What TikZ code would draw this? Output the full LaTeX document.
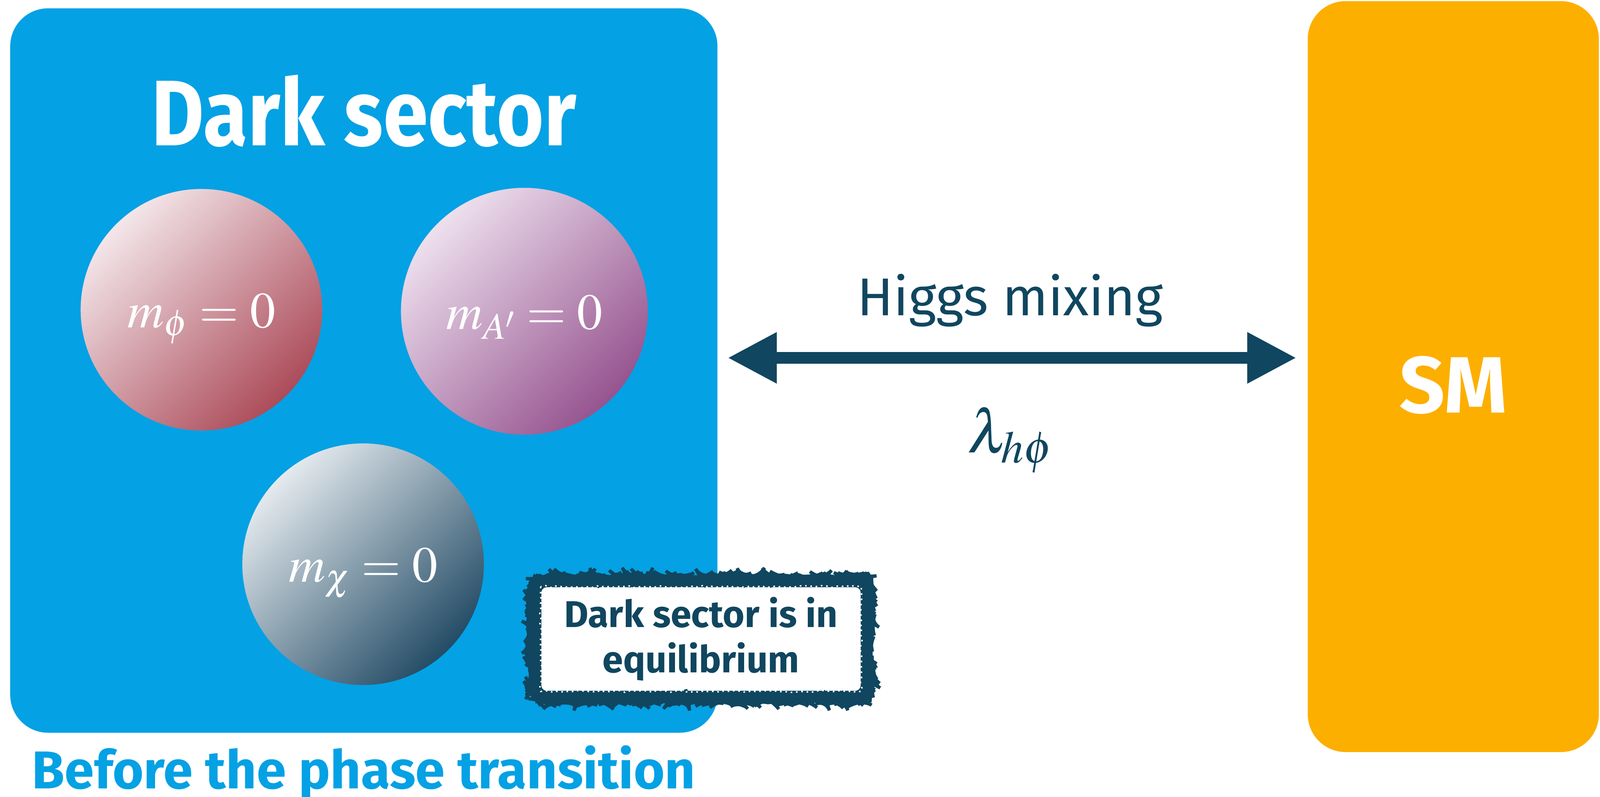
\documentclass[tikz,border=0pt]{standalone}
\usepackage{mathptmx}
\usepackage[no-math]{fontspec}
\setsansfont{Fira Sans}
\newfontfamily\titlefont{Fira Sans}[FakeStretch=0.87]
\renewcommand{\familydefault}{\sfdefault}
\usetikzlibrary{positioning,arrows.meta,decorations.pathmorphing}

\definecolor{sectorblue}{RGB}{4,161,228}
\definecolor{smorange}{RGB}{253,175,0}
\definecolor{deepteal}{RGB}{16,70,95}
\definecolor{phitop}{RGB}{243,230,234}
\definecolor{phibottom}{RGB}{172,76,90}
\definecolor{aptop}{RGB}{237,224,238}
\definecolor{apbottom}{RGB}{150,84,143}
\definecolor{chitop}{RGB}{228,234,238}
\definecolor{chibottom}{RGB}{36,76,102}

\begin{document}
\begin{tikzpicture}
\tikzstyle{box}=[rectangle, rounded corners=1cm, inner sep=0pt]
\tikzstyle{ball}=[circle, inner sep=0pt]
\tikzstyle{mass}=[text=white, font=\fontsize{38}{40}\selectfont, anchor=base]
\tikzstyle{eqbox}=[rectangle, fill=white, draw=deepteal, line width=9pt, rounded corners=0.3cm, outer sep=0pt,
  minimum width=8.75cm, minimum height=3.05cm, align=center, text=deepteal, font=\bfseries\fontsize{28}{34}\selectfont]
\tikzstyle{roughedge}=[draw=deepteal, line width=2.5pt, rounded corners=0.3cm, decorate,
  decoration={random steps, segment length=2pt, amplitude=1.1pt}]
\tikzstyle{speckle}=[draw=white, line width=1.1pt, dash pattern=on 1.2pt off 2.8pt, decorate,
  decoration={random steps, segment length=3pt, amplitude=0.8pt}]
\tikzstyle{mixarrow}=[deepteal, line width=9pt, {Triangle[length=37pt,width=36pt]}-{Triangle[length=37pt,width=36pt]},
  shorten <=0.26cm, shorten >=0.29cm]

\useasboundingbox (0,0) rectangle (42.26,-21.04);

\node[box, fill=sectorblue, minimum width=18.68cm, minimum height=19.13cm] (darkbox) at (9.61,-9.785) {};
\node[box, fill=smorange, minimum width=7.69cm, minimum height=19.83cm] (smbox) at (38.385,-9.945) {};

\node[text=white, font=\titlefont\bfseries\fontsize{70}{72}\selectfont, anchor=base] (title) at (9.61,-3.84) {Dark sector};

\node[ball, minimum size=6.38cm, top color=phitop, bottom color=phibottom, shading angle=45] (phi) at (5.32,-8.18) {};
\node[ball, minimum size=6.52cm, top color=aptop, bottom color=apbottom, shading angle=45] (aprime) at (13.85,-8.22) {};
\node[ball, minimum size=6.38cm, top color=chitop, bottom color=chibottom, shading angle=45] (chi) at (9.59,-14.90) {};
\node[mass] (phimass) at ([yshift=-0.47cm]phi.center) {$m_\phi = 0$};
\node[mass] (apmass) at ([yshift=-0.47cm]aprime.center) {$m_{A'} = 0$};
\node[mass] (chimass) at ([yshift=-0.47cm]chi.center) {$m_\chi = 0$};

\node[eqbox] (eq) at (18.515,-16.875) {Dark sector is in\\equilibrium};
\draw[roughedge] ([shift={(-3pt,3pt)}]eq.north west) rectangle ([shift={(3pt,-3pt)}]eq.south east);
\draw[speckle] ([shift={(4pt,-4pt)}]eq.north west) rectangle ([shift={(-4pt,4pt)}]eq.south east);

\coordinate (mix) at (26.68,-9.45);
\draw[mixarrow] (darkbox.east |- mix) -- (smbox.west |- mix);
\node[text=deepteal, font=\fontsize{40}{42}\selectfont, above=1.12cm of mix, anchor=base] (higgs) {Higgs mixing};
\node[text=deepteal, font=\fontsize{46}{48}\selectfont, below=2.5cm of mix, anchor=base] (coupling) {$\lambda_{h\phi}$};

\node[text=white, font=\bfseries\fontsize{60}{62}\selectfont, anchor=base] (smlabel) at ([yshift=-0.955cm]smbox.center) {SM};

\node[text=sectorblue, font=\bfseries\fontsize{40}{42}\selectfont, anchor=base west] (phase) at (0.72,-20.83) {Before the phase transition};
\end{tikzpicture}
\end{document}
